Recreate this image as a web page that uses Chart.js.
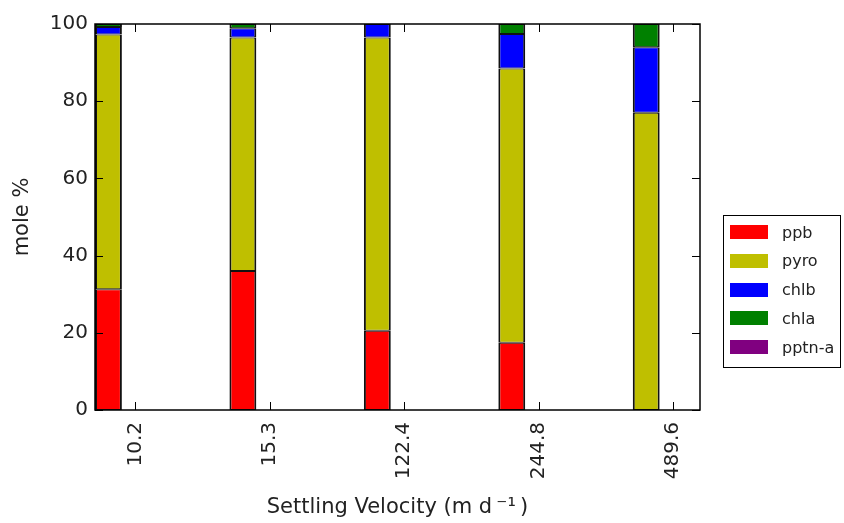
<!DOCTYPE html>
<html><head><meta charset="utf-8">
<script src="https://cdn.jsdelivr.net/npm/chart.js@4/dist/chart.umd.min.js"></script>
<style>
html,body{margin:0;padding:0;background:#fff;}
#wrap{position:relative;width:844px;height:523px;}
#legend{position:absolute;left:723px;top:215px;width:118px;height:153px;border:1px solid #000;box-sizing:border-box;font-family:'DejaVu Sans',sans-serif;font-size:16px;color:#222;}
.item{position:absolute;left:6px;height:20px;display:flex;align-items:center;}
.sw{width:38px;height:14px;margin-right:14px;}
</style></head><body>
<div id="wrap"><canvas id="c" width="844" height="523"></canvas><div id="legend"></div></div>
<script>
const categories = ['10.2', '15.3', '122.4', '244.8', '489.6'];
const seriesNames = ['ppb', 'pyro', 'chlb', 'chla', 'pptn-a'];
const ppb   = [31.3, 36.0, 20.5, 17.4, 0];
const pyro  = [66.0, 60.5, 76.0, 71.1, 77.0];
const chlb  = [1.9, 2.4, 3.5, 8.9, 17.0];
const chla  = [0.8, 1.1, 0, 2.6, 6.0];
const pptnA = [0, 0, 0, 0, 0];
const yTicks = [0, 20, 40, 60, 80, 100];
const colors = ['#ff0000', '#bfbf00', '#0000ff', '#008000', '#800080'];

const seriesValues = [ppb, pyro, chlb, chla, pptnA];
const BAR_OFFSET = 0.1, TICK_OFFSET = 0.3;

const datasets = seriesNames.map((name, s) => ({
  label: name,
  data: seriesValues[s].map((v, i) => ({ x: i + BAR_OFFSET, y: v === 0 ? null : v })),
  backgroundColor: colors[s],
  borderColor: '#111',
  borderWidth: { left: 2, right: 2, top: 1, bottom: 1 },
  borderSkipped: false,
  categoryPercentage: 1.0,
  barPercentage: 0.2
}));

const TICK_FONT = { family: "'DejaVu Sans', sans-serif", size: 20 };
const TITLE_FONT = { family: "'DejaVu Sans', sans-serif", size: 21 };

const frame = {
  id: 'frame',
  afterDraw(chart) {
    const { ctx, chartArea: a, scales: { x, y } } = chart;
    ctx.save();
    ctx.strokeStyle = '#000';
    ctx.lineWidth = 1;
    const line = (x1, y1, x2, y2) => { ctx.beginPath(); ctx.moveTo(x1, y1); ctx.lineTo(x2, y2); ctx.stroke(); };
    x.ticks.forEach(t => {
      const px = Math.round(x.getPixelForValue(t.value)) + 0.5;
      line(px, a.bottom, px, a.bottom - 8);
      line(px, a.top, px, a.top + 8);
    });
    y.ticks.forEach(t => {
      const py = Math.round(y.getPixelForValue(t.value)) + 0.5;
      line(a.left, py, a.left + 8, py);
      line(a.right, py, a.right - 8, py);
    });
    ctx.lineWidth = 1.5;
    ctx.strokeRect(a.left, a.top, a.right - a.left, a.bottom - a.top);
    ctx.restore();
  }
};

new Chart(document.getElementById('c'), {
  type: 'bar',
  data: { datasets },
  plugins: [frame],
  options: {
    responsive: false,
    animation: false,
    devicePixelRatio: 1,
    layout: { padding: { left: 0, top: 24, right: 144, bottom: 0 } },
    plugins: { legend: { display: false }, tooltip: { enabled: false } },
    scales: {
      x: {
        type: 'linear', min: 0, max: 4.5, stacked: true, offset: false,
        afterBuildTicks: s => { s.ticks = categories.map((c, i) => ({ value: i + TICK_OFFSET })); },
        afterFit: s => { s.height = 113; },
        ticks: { callback: (v, i) => categories[i], minRotation: 90, maxRotation: 90, autoSkip: false, font: TICK_FONT, color: '#222', padding: 12 },
        grid: { display: false, drawTicks: false },
        border: { display: false },
        title: { display: true, text: 'Settling Velocity (m d\u2009\u207B\u00B9\u2009)', font: TITLE_FONT, color: '#222', padding: { top: 0, bottom: 3 } }
      },
      y: {
        min: 0, max: 100, stacked: true,
        afterBuildTicks: s => { s.ticks = yTicks.map(v => ({ value: v })); },
        afterFit: s => { s.width = 95; },
        ticks: { callback: v => String(v), font: TICK_FONT, color: '#222', padding: 7 },
        grid: { display: false, drawTicks: false },
        border: { display: false },
        title: { display: true, text: 'mole %', font: TITLE_FONT, color: '#222', padding: { top: 10, bottom: 0 } }
      }
    }
  }
});

const legend = document.getElementById('legend');
seriesNames.forEach((name, i) => {
  const it = document.createElement('div');
  it.className = 'item';
  it.style.top = (6 + i * 28.8) + 'px';
  const sw = document.createElement('span');
  sw.className = 'sw';
  sw.style.background = colors[i];
  const tx = document.createElement('span');
  tx.textContent = name;
  it.appendChild(sw); it.appendChild(tx);
  legend.appendChild(it);
});
</script>
</body></html>
